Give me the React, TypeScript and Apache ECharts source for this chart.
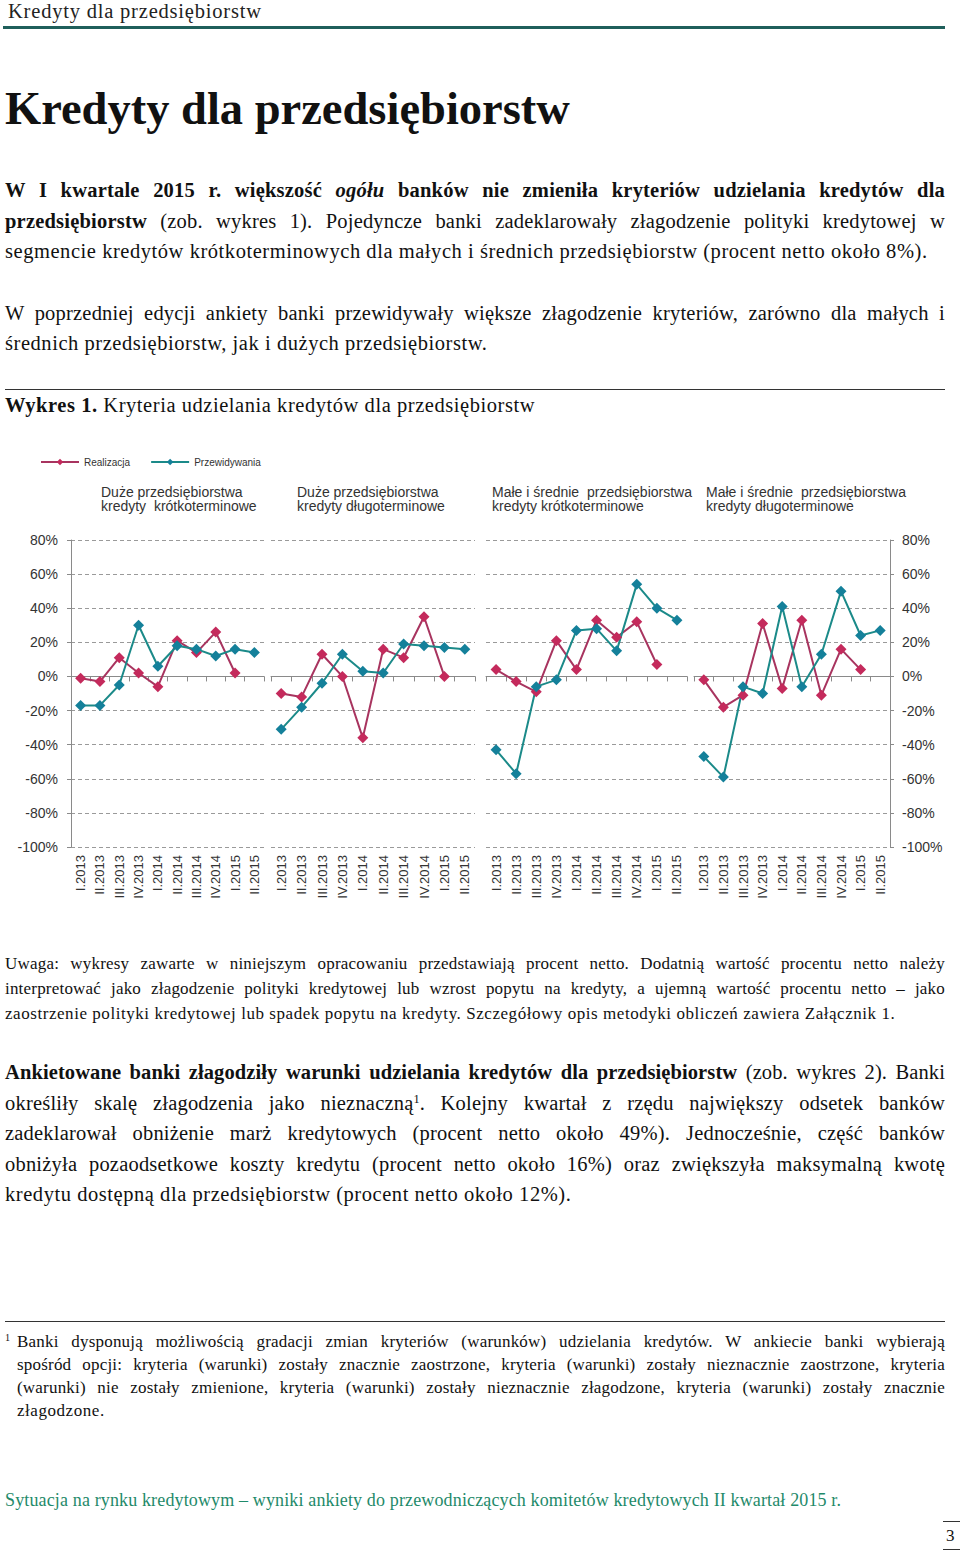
import React, { useEffect, useRef } from "react";
import * as echarts from "echarts";

// ---------- DATA ----------
const categories = ["I.2013", "II.2013", "III.2013", "IV.2013", "I.2014", "II.2014", "III.2014", "IV.2014", "I.2015", "II.2015"];
const legendNames = ["Realizacja", "Przewidywania"];
const panelTitles = [
  "Duże przedsiębiorstwa\nkredyty  krótkoterminowe",
  "Duże przedsiębiorstwa\nkredyty długoterminowe",
  "Małe i średnie  przedsiębiorstwa\nkredyty krótkoterminowe",
  "Małe i średnie  przedsiębiorstwa\nkredyty długoterminowe",
];
const realizacjaDuzeKrotko = [-1, -3, 11, 2, -6, 21, 14, 26, 2];
const przewidywaniaDuzeKrotko = [-17, -17, -5, 30, 6, 18, 16, 12, 16, 14];
const realizacjaDuzeDlugo = [-10, -12, 13, 0, -36, 16, 11, 35, 0];
const przewidywaniaDuzeDlugo = [-31, -18, -4, 13, 3, 2, 19, 18, 17, 16];
const realizacjaMsKrotko = [4, -3, -9, 21, 4, 33, 23, 32, 7];
const przewidywaniaMsKrotko = [-43, -57, -6, -2, 27, 28, 15, 54, 40, 33];
const realizacjaMsDlugo = [-2, -18, -11, 31, -7, 33, -11, 16, 4];
const przewidywaniaMsDlugo = [-47, -59, -6, -10, 41, -6, 13, 50, 24, 27];
const yMin = -100;
const yMax = 80;
const yStep = 20;

const realizacja = [realizacjaDuzeKrotko, realizacjaDuzeDlugo, realizacjaMsKrotko, realizacjaMsDlugo];
const przewidywania = [przewidywaniaDuzeKrotko, przewidywaniaDuzeDlugo, przewidywaniaMsKrotko, przewidywaniaMsDlugo];

// ---------- LAYOUT ----------
const panelBoxes = [
  { left: 71, width: 193, titleX: 101 },
  { left: 271, width: 204, titleX: 297 },
  { left: 486, width: 201, titleX: 492 },
  { left: 694, width: 196, titleX: 706 },
];
const RED_LINE = "#a8345f";
const RED_MARK = "#c42a5c";
const TEAL_LINE = "#1b8a89";
const TEAL_MARK = "#14809a";
const AXIS = "#8a8a8a";
const CF = "'Liberation Sans', Arial, sans-serif";

function Chart() {
  const ref = useRef<HTMLDivElement>(null);
  useEffect(() => {
    if (!ref.current) return;
    const chart = echarts.init(ref.current, undefined, { renderer: "svg" });
    const edge = (i: number) => i === 0 || i === 3;
    const series: any[] = [];
    panelBoxes.forEach((_, i) => {
      series.push({
        type: "line", name: legendNames[0], xAxisIndex: i, yAxisIndex: i, data: realizacja[i],
        symbol: "diamond", symbolSize: 11, showSymbol: true,
        lineStyle: { color: RED_LINE, width: 2 }, itemStyle: { color: RED_MARK },
      });
      series.push({
        type: "line", name: legendNames[1], xAxisIndex: i, yAxisIndex: i, data: przewidywania[i],
        symbol: "diamond", symbolSize: 11, showSymbol: true,
        lineStyle: { color: TEAL_LINE, width: 2 }, itemStyle: { color: TEAL_MARK },
      });
    });
    chart.setOption({
      animation: false,
      textStyle: { fontFamily: CF },
      legend: {
        data: legendNames, left: 40, top: 17, itemWidth: 38, itemHeight: 8, itemGap: 20, padding: 0,
        textStyle: { fontSize: 10, color: "#333", fontFamily: CF },
      },
      title: panelTitles.map((t, i) => ({
        text: t, left: panelBoxes[i].titleX, top: 45, padding: 0,
        textStyle: { fontSize: 14, fontWeight: "normal", color: "#333", lineHeight: 14, fontFamily: CF },
      })),
      grid: panelBoxes.map((p) => ({ left: p.left, width: p.width, top: 100, height: 307 })),
      xAxis: panelBoxes.map((_, i) => ({
        type: "category", gridIndex: i, data: categories, boundaryGap: true,
        axisLine: { show: true, lineStyle: { color: AXIS, width: 1 } },
        axisTick: { show: true, length: 5, interval: 0, lineStyle: { color: AXIS } },
        axisLabel: { rotate: 90, interval: 0, fontSize: 13, color: "#333", margin: 8, fontFamily: CF },
        splitLine: { show: false },
      })),
      yAxis: panelBoxes.map((_, i) => ({
        type: "value", gridIndex: i, min: yMin, max: yMax, interval: yStep,
        position: i === 3 ? "right" : "left",
        axisLine: { show: edge(i), lineStyle: { color: AXIS, width: 1 } },
        axisTick: { show: edge(i), length: 4, lineStyle: { color: AXIS } },
        axisLabel: { show: edge(i), formatter: "{value}%", fontSize: 14, color: "#333", margin: i === 0 ? 13 : 12, fontFamily: CF },
        splitLine: { show: true, lineStyle: { color: "#9a9a9a", type: [4, 3], width: 1 } },
      })),
      series,
    });
    return () => chart.dispose();
  }, []);
  return <div ref={ref} style={{ position: "absolute", left: 0, top: 440, width: 960, height: 480 }} />;
}

const SERIF = "'Liberation Serif', 'Times New Roman', serif";

type LineProps = { base: number; size: number; left?: number; width?: number; justify?: boolean; ls?: number; color?: string; children: React.ReactNode; style?: React.CSSProperties };
function Line({ base, size, left = 5, width = 940, justify = true, ls, color = "#111", children, style }: LineProps) {
  const spacing = ls !== undefined ? ls : justify ? 0.2 : 0.55;
  return (
    <div
      style={{
        position: "absolute", left, width, top: base - 0.84 * size, fontSize: size, lineHeight: `${size}px`,
        fontFamily: SERIF, color, whiteSpace: "nowrap", letterSpacing: spacing,
        textAlign: justify ? "justify" : "left", textAlignLast: justify ? "justify" : "left",
        ...style,
      }}
    >
      {children}
    </div>
  );
}

const Sup = ({ children }: { children: React.ReactNode }) => (
  <span style={{ fontSize: "0.6em", verticalAlign: "0.6em", lineHeight: 0, letterSpacing: 0 }}>{children}</span>
);

export default function App() {
  const B = 20.5;
  const S = 17;
  return (
    <div style={{ position: "absolute", left: 0, top: 0, width: 960, height: 1553, background: "#fff" }}>
      <Line base={18} size={20.5} left={8} justify={false} ls={0.8} color="#222">Kredyty dla przedsiębiorstw</Line>
      <div style={{ position: "absolute", left: 3, top: 26, width: 942, height: 3, background: "#1f5f5b" }} />
      <Line base={125} size={46.5} justify={false} ls={0} style={{ fontWeight: "bold" }}>Kredyty dla przedsiębiorstw</Line>

      <Line base={197} size={B}><b>W I kwartale 2015 r. większość <i>ogółu</i> banków nie zmieniła kryteriów udzielania kredytów dla</b></Line>
      <Line base={228} size={B}><b>przedsiębiorstw</b> (zob. wykres 1). Pojedyncze banki zadeklarowały złagodzenie polityki kredytowej w</Line>
      <Line base={258} size={B} justify={false}>segmencie kredytów krótkoterminowych dla małych i średnich przedsiębiorstw (procent netto około 8%).</Line>

      <Line base={320} size={B}>W poprzedniej edycji ankiety banki przewidywały większe złagodzenie kryteriów, zarówno dla małych i</Line>
      <Line base={350} size={B} justify={false}>średnich przedsiębiorstw, jak i dużych przedsiębiorstw.</Line>

      <div style={{ position: "absolute", left: 5, top: 389, width: 940, height: 1, background: "#333" }} />
      <Line base={412} size={B} justify={false}><b>Wykres 1.</b> Kryteria udzielania kredytów dla przedsiębiorstw</Line>

      <Chart />

      <Line base={969} size={S}>Uwaga: wykresy zawarte w niniejszym opracowaniu przedstawiają procent netto. Dodatnią wartość procentu netto należy</Line>
      <Line base={994} size={S}>interpretować jako złagodzenie polityki kredytowej lub wzrost popytu na kredyty, a ujemną wartość procentu netto – jako</Line>
      <Line base={1019} size={S} justify={false}>zaostrzenie polityki kredytowej lub spadek popytu na kredyty. Szczegółowy opis metodyki obliczeń zawiera Załącznik 1.</Line>

      <Line base={1079} size={B} ls={0.1}><b>Ankietowane banki złagodziły warunki udzielania kredytów dla przedsiębiorstw</b> (zob. wykres 2). Banki</Line>
      <Line base={1110} size={B}>określiły skalę złagodzenia jako nieznaczną<Sup>1</Sup>. Kolejny kwartał z rzędu największy odsetek banków</Line>
      <Line base={1140} size={B}>zadeklarował obniżenie marż kredytowych (procent netto około 49%). Jednocześnie, część banków</Line>
      <Line base={1171} size={B}>obniżyła pozaodsetkowe koszty kredytu (procent netto około 16%) oraz zwiększyła maksymalną kwotę</Line>
      <Line base={1201} size={B} justify={false}>kredytu dostępną dla przedsiębiorstw (procent netto około 12%).</Line>

      <div style={{ position: "absolute", left: 5, top: 1321, width: 940, height: 1, background: "#333" }} />
      <Line base={1347} size={S} left={5} width={10} justify={false}><Sup>1</Sup></Line>
      <Line base={1347} size={S} left={17} width={928}>Banki dysponują możliwością gradacji zmian kryteriów (warunków) udzielania kredytów. W ankiecie banki wybierają</Line>
      <Line base={1370} size={S} left={17} width={928}>spośród opcji: kryteria (warunki) zostały znacznie zaostrzone, kryteria (warunki) zostały nieznacznie zaostrzone, kryteria</Line>
      <Line base={1393} size={S} left={17} width={928}>(warunki) nie zostały zmienione, kryteria (warunki) zostały nieznacznie złagodzone, kryteria (warunki) zostały znacznie</Line>
      <Line base={1416} size={S} left={17} width={928} justify={false}>złagodzone.</Line>

      <Line base={1506} size={18} justify={false} ls={0.14} color="#1f8a6a">Sytuacja na rynku kredytowym – wyniki ankiety do przewodniczących komitetów kredytowych II kwartał 2015 r.</Line>
      <div style={{ position: "absolute", left: 943, top: 1521, width: 17, height: 1, background: "#333" }} />
      <Line base={1541} size={17} left={946} width={14} justify={false} ls={0}>3</Line>
      <div style={{ position: "absolute", left: 943, top: 1549, width: 17, height: 1, background: "#333" }} />
    </div>
  );
}
